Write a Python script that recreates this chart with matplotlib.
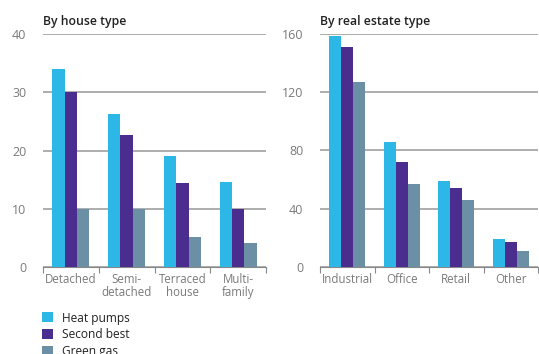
import numpy as np
import matplotlib.pyplot as plt

plt.rcParams['font.family'] = ['Open Sans', 'DejaVu Sans']

# Data
house_types = ['Detached', 'Semi-\ndetached', 'Terraced\nhouse', 'Multi-\nfamily']
house_heat_pumps = [34.0, 26.2, 19.0, 14.6]
house_second_best = [30.0, 22.6, 14.4, 10.0]
house_green_gas = [10.0, 10.0, 5.1, 4.2]

estate_types = ['Industrial', 'Office', 'Retail', 'Other']
estate_heat_pumps = [159, 86, 59, 19]
estate_second_best = [151, 72, 54, 17]
estate_green_gas = [127, 57, 46, 11]

series_names = ['Heat pumps', 'Second best', 'Green gas']
colors = ['#2db7e7', '#4a2d8f', '#6b90a6']
grid_color = '#a0a0a0'
tick_color = '#7a7a7a'

fig = plt.figure(figsize=(5.39, 3.54), dpi=100)
ax1 = fig.add_axes([0.0798, 0.2458, 0.414, 0.658])
ax2 = fig.add_axes([0.5937, 0.2466, 0.4045, 0.6566])


def draw_panel(ax, cats, series, ymax, step, title):
    x = np.arange(len(cats))
    w = 0.222
    for i, (vals, c) in enumerate(zip(series, colors)):
        ax.bar(x + (i - 1) * w, vals, width=w, color=c, label=series_names[i], zorder=3)
    ax.set_xlim(-0.5, len(cats) - 0.5)
    ax.set_ylim(0, ymax)
    ax.set_yticks(np.arange(0, ymax + 1, step))
    ax.grid(axis='y', color=grid_color, linewidth=1.2, zorder=0)
    for s in ['top', 'right', 'left']:
        ax.spines[s].set_visible(False)
    ax.spines['bottom'].set_color('#888888')
    ax.spines['bottom'].set_linewidth(0.8)
    # category labels between boundary ticks
    ax.set_xticks(np.arange(-0.5, len(cats)), minor=False)
    ax.set_xticklabels([])
    ax.set_xticks(x, minor=True)
    ax.set_xticklabels(cats, minor=True, fontsize=8.3, color=tick_color, linespacing=1.0)
    ax.tick_params(axis='x', which='major', length=4, color='#888888', width=0.8)
    ax.tick_params(axis='x', which='minor', length=0, pad=4.5)
    ax.tick_params(axis='y', length=0, labelsize=9, labelcolor=tick_color, pad=12)
    ax.text(0.0, 1.025, title, transform=ax.transAxes, fontsize=8.8, color='#222222',
            fontweight='semibold', va='bottom', ha='left')


draw_panel(ax1, house_types, [house_heat_pumps, house_second_best, house_green_gas],
           40, 10, 'By house type')
draw_panel(ax2, estate_types, [estate_heat_pumps, estate_second_best, estate_green_gas],
           160, 40, 'By real estate type')

handles, labels = ax1.get_legend_handles_labels()
fig.legend(handles, labels, loc='upper left', bbox_to_anchor=(0.078, 0.12),
           frameon=False, fontsize=8.6, handlelength=0.9, handleheight=0.9,
           handletextpad=0.8, labelspacing=0.3, borderpad=0, borderaxespad=0,
           labelcolor='#222222')

fig.savefig('out.png', dpi=100)
